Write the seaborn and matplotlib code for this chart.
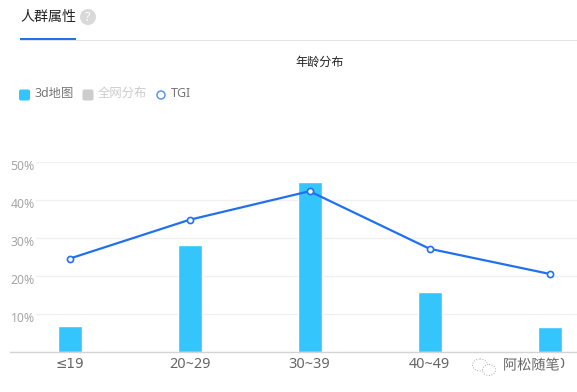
import matplotlib
matplotlib.use('Agg')
import matplotlib.pyplot as plt
import matplotlib.patheffects as pe
from matplotlib.patches import FancyBboxPatch, Circle, Ellipse, Rectangle
from matplotlib.transforms import ScaledTranslation
import seaborn as sns

ages = ['≤19', '20~29', '30~39', '40~49', '≥50']
share = [6.8, 28.0, 44.5, 15.7, 6.5]
tgi = [24.5, 34.7, 42.2, 27.1, 20.5]
y_ticks = [0, 10, 20, 30, 40, 50]
y_labels = ['', '10%', '20%', '30%', '40%', '50%']

BLUE = '#33c5fb'
LINE = '#2170ee'

sns.set_theme(style='white')
plt.rcParams['font.family'] = ['Noto Sans', 'Noto Sans CJK SC', 'DejaVu Sans']

W, H = 577, 392
fig = plt.figure(figsize=(W / 100, H / 100), dpi=100)

# axes: baseline at y=352, 50% at y=161.5, categories 120px apart
ax = fig.add_axes([10 / W, (H - 352) / H, (W - 10) / W, 190.5 / H])
sns.barplot(x=ages, y=share, color=BLUE, saturation=1, width=0.2, ax=ax, zorder=2)
sns.lineplot(x=ages, y=tgi, sort=False, color=LINE, lw=1.6, marker='o', ms=4.4,
             mfc='white', mec=LINE, mew=1.2, ax=ax, zorder=3)

ax.set_xlim(-0.496, -0.496 + (W - 10) / 120)
ax.set_ylim(0, 50)
ax.set_yticks(y_ticks)
ax.set_yticklabels(y_labels)
ax.grid(axis='y', color='#f0f0f0', lw=1)
ax.set_axisbelow(True)
for s in ['top', 'right', 'left']:
    ax.spines[s].set_visible(False)
ax.spines['bottom'].set_color('#d4d4d4')
ax.spines['bottom'].set_linewidth(1)
ax.tick_params(axis='x', length=0, labelsize=10.4, labelcolor='#666666', pad=3.5)
ax.tick_params(axis='y', length=0, labelsize=8.8, labelcolor='#a6a6a6', pad=-0.4)
# the CJK font has a slanted ≤, the reference has a flat one
ax.get_xticklabels()[0].set_family(['DejaVu Sans'])
ax.get_xticklabels()[0].set_fontsize(9.8)
shift = ScaledTranslation(0, -3.5 / 100, fig.dpi_scale_trans)
for lab in ax.get_yticklabels():
    lab.set_ha('left')
    lab.set_transform(lab.get_transform() + shift)
    lab.set_bbox(dict(fc='white', ec='none', pad=0.6))

# page furniture on a pixel overlay
top = fig.add_axes([0, 0, 1, 1], zorder=5)
top.set_xlim(0, W)
top.set_ylim(H, 0)
top.axis('off')

top.text(20, 17, '人群属性', fontsize=10.1, color='#222222', va='center')
top.add_patch(Circle((88, 17), 8, fc='#d9d9d9', ec='none'))
top.text(88, 17, '?', fontsize=9, color='white', ha='center', va='center', fontweight='bold')
top.add_patch(Rectangle((20, 40), W - 20, 1, fc='#e3e3e3', ec='none'))
top.add_patch(Rectangle((20, 38), 56, 2, fc=LINE, ec='none'))
top.text(320, 62, '年龄分布', fontsize=8.7, color='#222222', ha='center', va='center')

top.add_patch(FancyBboxPatch((20.5, 91), 8, 8, boxstyle='round,pad=1.5,rounding_size=2', fc=BLUE, ec='none'))
top.text(34, 93.5, '3d地图', fontsize=8.9, color='#777777', va='center')
top.add_patch(FancyBboxPatch((84, 91), 8, 8, boxstyle='round,pad=1.5,rounding_size=2', fc='#cccccc', ec='none'))
top.text(97.5, 93.5, '全网分布', fontsize=8.9, color='#cccccc', va='center')
top.add_patch(Circle((161, 95), 4, fc='white', ec='#5b95f2', lw=1.1))
top.text(171, 93.5, 'TGI', fontsize=9, color='#777777', va='center')

# watermark over the last tick label
halo = [pe.withStroke(linewidth=3, foreground='white')]
top.add_patch(Ellipse((480, 365), 15, 12, fc='white', ec='#aaaaaa', lw=0.7, ls=':'))
top.add_patch(Ellipse((489, 370), 13, 11, fc='white', ec='#aaaaaa', lw=0.7, ls=':'))
top.text(503, 366, '阿松随笔', fontsize=10.2, color='#666666', va='center', path_effects=halo)

fig.savefig('out.png', dpi=100)
